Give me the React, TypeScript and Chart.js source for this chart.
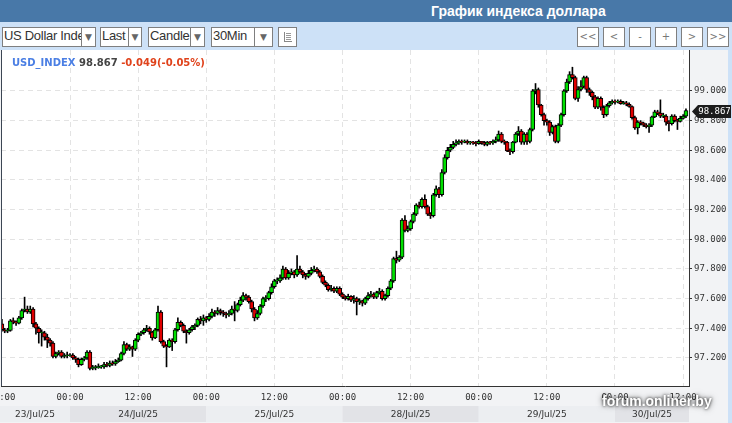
import React, { useEffect, useRef } from 'react';
import { Chart, registerables } from 'chart.js';

Chart.register(...registerables);

// ---- Data (30-minute candles, 23/Jul/25 12:00 -> 30/Jul/25 ~12:30) ----
const FIRST_OPEN = 97.43;

const close = [
  97.39, 97.38, 97.385, 97.45, 97.445, 97.435, 97.47, 97.52, 97.53, 97.51,
  97.53, 97.43, 97.40, 97.37, 97.37, 97.34, 97.32, 97.30, 97.21, 97.23,
  97.24, 97.21, 97.215, 97.215, 97.22, 97.20, 97.19, 97.155, 97.19, 97.20,
  97.24, 97.13, 97.135, 97.135, 97.14, 97.14, 97.155, 97.15, 97.165, 97.16,
  97.175, 97.185, 97.23, 97.29, 97.26, 97.275, 97.26, 97.32, 97.36, 97.37,
  97.39, 97.40, 97.375, 97.335, 97.39, 97.51, 97.31, 97.28, 97.275, 97.32,
  97.31, 97.39, 97.44, 97.42, 97.38, 97.37, 97.39, 97.41, 97.42, 97.46,
  97.45, 97.47, 97.46, 97.48, 97.51, 97.50, 97.52, 97.51, 97.50, 97.49,
  97.50, 97.53, 97.52, 97.56, 97.59, 97.62, 97.61, 97.58, 97.53, 97.47,
  97.50, 97.55, 97.60, 97.60, 97.64, 97.68, 97.72, 97.72, 97.74, 97.80,
  97.74, 97.77, 97.78, 97.76, 97.80, 97.78, 97.76, 97.75, 97.77, 97.79,
  97.80, 97.78, 97.75, 97.71, 97.69, 97.66, 97.67, 97.65, 97.67, 97.63,
  97.61, 97.60, 97.615, 97.59, 97.60, 97.58, 97.585, 97.57, 97.60, 97.62,
  97.63, 97.61, 97.64, 97.65, 97.60, 97.62, 97.67, 97.72, 97.87, 97.86,
  97.88, 98.13, 98.06, 98.07, 98.12, 98.17, 98.23, 98.22, 98.27, 98.22,
  98.17, 98.16, 98.30, 98.34, 98.30, 98.45, 98.55, 98.60, 98.62, 98.64,
  98.65, 98.66, 98.655, 98.66, 98.65, 98.655, 98.65, 98.645, 98.66, 98.65,
  98.64, 98.655, 98.65, 98.66, 98.67, 98.71, 98.66, 98.655, 98.595, 98.59,
  98.655, 98.71, 98.73, 98.655, 98.71, 98.66, 98.74, 99.00, 99.01, 98.905,
  98.84, 98.80, 98.79, 98.72, 98.76, 98.66, 98.77, 98.84, 99.00, 99.06,
  99.11, 99.09, 98.95, 99.01, 99.03, 99.09, 99.01, 98.99, 98.96, 98.89,
  98.95, 98.89, 98.84, 98.90, 98.92, 98.93, 98.925, 98.93, 98.915, 98.92,
  98.91, 98.895, 98.82, 98.75, 98.79, 98.785, 98.77, 98.76, 98.77, 98.825,
  98.86, 98.85, 98.83, 98.83, 98.79, 98.78, 98.83, 98.80, 98.795, 98.815,
  98.83, 98.867,
];

const high = [
  97.46, 97.40, 97.40, 97.46, 97.47, 97.45, 97.48, 97.53, 97.61, 97.55,
  97.55, 97.54, 97.44, 97.41, 97.39, 97.38, 97.36, 97.33, 97.31, 97.24,
  97.25, 97.25, 97.23, 97.24, 97.23, 97.23, 97.21, 97.20, 97.20, 97.21,
  97.25, 97.25, 97.15, 97.15, 97.16, 97.15, 97.17, 97.17, 97.18, 97.18,
  97.19, 97.20, 97.24, 97.31, 97.30, 97.29, 97.28, 97.33, 97.37, 97.38,
  97.40, 97.42, 97.41, 97.38, 97.40, 97.55, 97.52, 97.32, 97.29, 97.33,
  97.33, 97.40, 97.47, 97.45, 97.43, 97.39, 97.40, 97.42, 97.43, 97.47,
  97.48, 97.49, 97.48, 97.50, 97.53, 97.52, 97.54, 97.53, 97.52, 97.51,
  97.52, 97.55, 97.58, 97.57, 97.61, 97.64, 97.63, 97.62, 97.59, 97.54,
  97.52, 97.56, 97.61, 97.62, 97.65, 97.70, 97.73, 97.74, 97.76, 97.82,
  97.81, 97.79, 97.80, 97.79, 97.89, 97.82, 97.79, 97.77, 97.79, 97.81,
  97.82, 97.81, 97.79, 97.76, 97.72, 97.70, 97.69, 97.68, 97.68, 97.68,
  97.64, 97.62, 97.63, 97.62, 97.62, 97.61, 97.60, 97.59, 97.61, 97.64,
  97.65, 97.64, 97.65, 97.67, 97.66, 97.63, 97.68, 97.73, 97.88, 97.92,
  97.89, 98.14, 98.16, 98.09, 98.13, 98.18, 98.24, 98.25, 98.28, 98.30,
  98.23, 98.18, 98.31, 98.36, 98.35, 98.47, 98.57, 98.62, 98.64, 98.66,
  98.67, 98.67, 98.67, 98.67, 98.67, 98.66, 98.66, 98.66, 98.67, 98.66,
  98.66, 98.66, 98.66, 98.67, 98.69, 98.73, 98.72, 98.67, 98.66, 98.61,
  98.66, 98.72, 98.76, 98.74, 98.72, 98.72, 98.75, 99.01, 99.05, 99.02,
  98.91, 98.85, 98.81, 98.80, 98.77, 98.77, 98.78, 98.85, 99.01, 99.08,
  99.13, 99.16, 99.10, 99.03, 99.07, 99.10, 99.10, 99.02, 99.00, 98.97,
  98.96, 98.96, 98.90, 98.91, 98.93, 98.94, 98.94, 98.94, 98.94, 98.93,
  98.93, 98.92, 98.90, 98.83, 98.80, 98.80, 98.79, 98.78, 98.78, 98.83,
  98.87, 98.87, 98.94, 98.85, 98.84, 98.80, 98.84, 98.84, 98.81, 98.83,
  98.84, 98.88,
];

const low = [
  97.38, 97.37, 97.37, 97.38, 97.43, 97.42, 97.43, 97.46, 97.51, 97.50,
  97.50, 97.41, 97.36, 97.30, 97.28, 97.32, 97.27, 97.28, 97.20, 97.20,
  97.22, 97.20, 97.20, 97.20, 97.21, 97.19, 97.17, 97.14, 97.15, 97.18,
  97.19, 97.12, 97.12, 97.12, 97.13, 97.13, 97.13, 97.14, 97.14, 97.15,
  97.15, 97.17, 97.18, 97.22, 97.25, 97.25, 97.21, 97.25, 97.31, 97.35,
  97.36, 97.38, 97.36, 97.32, 97.33, 97.38, 97.30, 97.27, 97.14, 97.27,
  97.25, 97.30, 97.38, 97.41, 97.37, 97.30, 97.36, 97.38, 97.39, 97.41,
  97.43, 97.42, 97.44, 97.45, 97.47, 97.48, 97.49, 97.49, 97.48, 97.47,
  97.48, 97.49, 97.45, 97.51, 97.55, 97.58, 97.59, 97.57, 97.51, 97.45,
  97.46, 97.49, 97.54, 97.58, 97.59, 97.63, 97.67, 97.70, 97.71, 97.73,
  97.73, 97.73, 97.76, 97.74, 97.75, 97.77, 97.74, 97.73, 97.74, 97.76,
  97.78, 97.77, 97.74, 97.70, 97.68, 97.65, 97.65, 97.64, 97.64, 97.62,
  97.60, 97.59, 97.59, 97.58, 97.57, 97.49, 97.56, 97.55, 97.56, 97.59,
  97.61, 97.60, 97.60, 97.63, 97.59, 97.59, 97.61, 97.66, 97.71, 97.84,
  97.85, 97.87, 98.05, 98.05, 98.06, 98.11, 98.16, 98.21, 98.21, 98.21,
  98.16, 98.14, 98.15, 98.29, 98.28, 98.29, 98.44, 98.54, 98.59, 98.61,
  98.63, 98.64, 98.64, 98.65, 98.64, 98.64, 98.64, 98.63, 98.64, 98.64,
  98.63, 98.63, 98.64, 98.64, 98.65, 98.66, 98.65, 98.64, 98.59, 98.57,
  98.58, 98.65, 98.70, 98.64, 98.64, 98.64, 98.65, 98.73, 98.98, 98.89,
  98.83, 98.77, 98.77, 98.70, 98.71, 98.65, 98.65, 98.76, 98.83, 98.99,
  99.05, 99.08, 98.94, 98.93, 99.00, 99.02, 98.99, 98.97, 98.94, 98.88,
  98.88, 98.87, 98.82, 98.83, 98.89, 98.91, 98.91, 98.92, 98.91, 98.91,
  98.90, 98.89, 98.81, 98.74, 98.71, 98.77, 98.76, 98.75, 98.72, 98.76,
  98.82, 98.84, 98.82, 98.82, 98.77, 98.73, 98.77, 98.79, 98.74, 98.79,
  98.81, 98.82,
];

// Each candle opens where the previous one closed.
const open = close.map((_, i) => (i === 0 ? FIRST_OPEN : close[i - 1]));

const timeTickIndex = [0, 24, 48, 72, 96, 120, 144, 168, 192, 216, 240];
const timeTickLabels = ['12:00', '00:00', '12:00', '00:00', '12:00', '00:00', '12:00', '00:00', '12:00', '00:00', '12:00'];
const dayStartIndex = [24, 72, 120, 168, 216];
const dayLabels = ['23/Jul/25', '24/Jul/25', '25/Jul/25', '28/Jul/25', '29/Jul/25', '30/Jul/25'];
const priceTicks = [97.2, 97.4, 97.6, 97.8, 98.0, 98.2, 98.4, 98.6, 98.8, 99.0];

const SYMBOL = 'USD_INDEX';
const LAST_TEXT = '98.867';
const CHANGE_TEXT = '-0.049(-0.05%)';

const X_MIN = -0.31;
const X_MAX = 242.07;
const Y_MIN = 97.011;
const Y_MAX = 99.276;

const GREEN = '#00e000';
const RED = '#e00000';

const framePlugin = {
  id: 'frame',
  beforeDraw(chart: any) {
    const { ctx, chartArea: a, height } = chart;
    ctx.save();
    ctx.fillStyle = '#f2f3f5';
    ctx.fillRect(0, 0, 728, height);
    ctx.fillStyle = '#cde1f7';
    ctx.fillRect(728, 0, chart.width - 728, height);
    ctx.fillStyle = '#ffffff';
    ctx.fillRect(a.left, a.top, a.right - a.left, a.bottom - a.top);

    // date band
    const xs = chart.scales.x;
    const bounds = [0, ...dayStartIndex.map((i) => xs.getPixelForValue(i)), a.right];
    const y0 = a.bottom + 20;
    const h = 16;
    for (let k = 0; k < dayLabels.length; k++) {
      const x0 = bounds[k];
      const x1 = bounds[k + 1];
      ctx.fillStyle = k % 2 === 0 ? '#eceef1' : '#e2e3e7';
      ctx.fillRect(x0, y0, x1 - x0, h);
      ctx.fillStyle = '#333';
      ctx.font = '9px "DejaVu Sans"';
      ctx.textAlign = 'center';
      ctx.textBaseline = 'middle';
      ctx.fillText(dayLabels[k], (x0 + x1) / 2, y0 + h / 2 + 1);
    }
    ctx.restore();
  },
  afterDraw(chart: any) {
    const { ctx, chartArea: a } = chart;
    ctx.save();
    // left frame line
    ctx.strokeStyle = '#3c4654';
    ctx.lineWidth = 1;
    ctx.beginPath();
    ctx.moveTo(a.left + 0.5, a.top);
    ctx.lineTo(a.left + 0.5, a.bottom);
    ctx.stroke();

    // last price tag
    const ys = chart.scales.y;
    const last = close[close.length - 1];
    const y = Math.round(ys.getPixelForValue(last)) + 0.5;
    const tip = a.right + 3;
    ctx.fillStyle = '#1c1c1c';
    ctx.beginPath();
    ctx.moveTo(tip, y);
    ctx.lineTo(tip + 6, y - 6.5);
    ctx.lineTo(731, y - 6.5);
    ctx.lineTo(731, y + 6.5);
    ctx.lineTo(tip + 6, y + 6.5);
    ctx.closePath();
    ctx.fill();
    ctx.fillStyle = '#ffffff';
    ctx.font = '9px "DejaVu Sans Mono"';
    ctx.textAlign = 'center';
    ctx.textBaseline = 'middle';
    ctx.fillText(last.toFixed(3), (tip + 6 + 731) / 2, y + 0.5);
    ctx.restore();
  },
};

function Select(props: { left: number; right: number; divider: number; text: string }) {
  const { left, right, divider, text } = props;
  return (
    <div
      style={{
        position: 'absolute',
        left,
        top: 27,
        width: right - left,
        height: 20,
        boxSizing: 'border-box',
        border: '1px solid #7f7f7f',
        background: '#fff',
        overflow: 'hidden',
      }}
    >
      <div
        style={{
          position: 'absolute',
          left: 1,
          top: 0,
          width: divider - left - 2,
          height: 18,
          lineHeight: '15px',
          fontSize: 13,
          letterSpacing: '-0.3px',
          color: '#333',
          whiteSpace: 'nowrap',
          overflow: 'hidden',
          fontFamily: '"Liberation Sans", Arial, sans-serif',
        }}
      >
        {text}
      </div>
      <div style={{ position: 'absolute', left: divider - left - 1, top: 0, width: 1, height: 18, background: '#7f7f7f' }} />
      <div
        style={{
          position: 'absolute',
          left: divider - left,
          right: 0,
          top: 0,
          height: 18,
          lineHeight: '18px',
          textAlign: 'center',
          fontSize: 9,
          color: '#666',
          fontFamily: '"DejaVu Sans", sans-serif',
        }}
      >
        ▼
      </div>
    </div>
  );
}

function NavButton(props: { left: number; text: string }) {
  return (
    <div
      style={{
        position: 'absolute',
        left: props.left,
        top: 27,
        width: 22,
        height: 20,
        boxSizing: 'border-box',
        border: '1px solid #7f7f7f',
        background: '#fff',
        textAlign: 'center',
        lineHeight: '18px',
        fontSize: 10,
        color: '#777',
        fontFamily: '"DejaVu Sans", sans-serif',
      }}
    >
      {props.text}
    </div>
  );
}

export default function App() {
  const canvasRef = useRef<HTMLCanvasElement | null>(null);

  useEffect(() => {
    const canvas = canvasRef.current;
    if (!canvas) return;

    const bodies = close.map((c, i) => ({ x: i, y: [open[i], c] }));
    const wicks = close.map((_, i) => ({ x: i, y: [low[i], high[i]] }));
    const bodyColors = close.map((c, i) => (c >= open[i] ? GREEN : RED));

    const zeroPad = (scale: any) => {
      scale.paddingLeft = 0;
      scale.paddingRight = 0;
      scale.paddingTop = 0;
      scale.paddingBottom = 0;
    };

    const chart = new Chart(canvas, {
      type: 'bar',
      data: {
        datasets: [
          {
            label: 'body',
            data: bodies as any,
            backgroundColor: bodyColors,
            borderColor: '#000000',
            borderWidth: 1,
            borderSkipped: false,
            barThickness: 4,
            minBarLength: 1,
            grouped: false,
          } as any,
          {
            label: 'wick',
            data: wicks as any,
            backgroundColor: '#000000',
            borderWidth: 0,
            barThickness: 1,
            grouped: false,
          } as any,
        ],
      },
      options: {
        responsive: false,
        animation: false,
        events: [],
        layout: { padding: { left: 1, right: 4, top: 0, bottom: 0 } },
        plugins: {
          legend: { display: false },
          tooltip: { enabled: false },
        },
        scales: {
          x: {
            type: 'linear',
            min: X_MIN,
            max: X_MAX,
            offset: false,
            afterBuildTicks: (scale: any) => {
              scale.ticks = timeTickIndex.map((v) => ({ value: v }));
            },
            afterFit: (scale: any) => {
              scale.height = 37;
              zeroPad(scale);
            },
            grid: {
              offset: false,
              color: '#e3e3e3',
              drawTicks: false,
            },
            border: { display: true, color: '#333333', width: 1, dash: [5, 4] },
            ticks: {
              autoSkip: false,
              maxRotation: 0,
              padding: 6,
              color: '#333333',
              font: { family: '"DejaVu Sans Mono", monospace', size: 9 },
              callback: (_v: any, index: number) => timeTickLabels[index] ?? '',
            },
          },
          y: {
            type: 'linear',
            position: 'right',
            min: Y_MIN,
            max: Y_MAX,
            afterBuildTicks: (scale: any) => {
              scale.ticks = priceTicks.map((v) => ({ value: v }));
            },
            afterFit: (scale: any) => {
              scale.width = 39;
              zeroPad(scale);
            },
            grid: {
              color: '#e3e3e3',
              drawTicks: true,
              tickLength: 3,
              tickColor: '#333333',
            },
            border: { display: true, color: '#333333', width: 1, dash: [5, 4] },
            ticks: {
              padding: 2,
              color: '#333333',
              font: { family: '"DejaVu Sans Mono", monospace', size: 9 },
              callback: (v: any) => Number(v).toFixed(3),
            },
          },
        },
      } as any,
      plugins: [framePlugin],
    });

    return () => {
      chart.destroy();
    };
  }, []);

  const navLabels = ['<<', '<', '-', '+', '>', '>>'];

  return (
    <div
      style={{
        position: 'fixed',
        left: 0,
        top: 0,
        width: 732,
        height: 423,
        overflow: 'hidden',
        background: '#cde1f7',
        fontFamily: '"DejaVu Sans", sans-serif',
      }}
    >
      {/* header */}
      <div style={{ position: 'absolute', left: 0, top: 0, width: 732, height: 22, background: '#4878a8' }}>
        <div
          style={{
            position: 'absolute',
            left: 431,
            top: 0,
            lineHeight: '22px',
            fontSize: 14,
            fontWeight: 'bold',
            color: '#ffffff',
            fontFamily: '"Liberation Sans", Arial, sans-serif',
            whiteSpace: 'nowrap',
          }}
        >
          График индекса доллара
        </div>
      </div>

      {/* toolbar */}
      <Select left={2} right={96} divider={81} text="US Dollar Index" />
      <Select left={100} right={142} divider={128} text="Last" />
      <Select left={148} right={205} divider={190} text="Candle" />
      <Select left={211} right={273} divider={254} text="30Min" />
      <div
        style={{
          position: 'absolute',
          left: 278,
          top: 27,
          width: 19,
          height: 20,
          boxSizing: 'border-box',
          border: '1px solid #7f7f7f',
          background: '#fff',
        }}
      >
        <div style={{ position: 'absolute', left: 5, top: 4, width: 1, height: 10, background: '#888' }} />
        <div style={{ position: 'absolute', left: 7, top: 5, width: 5, height: 1, background: '#999' }} />
        <div style={{ position: 'absolute', left: 7, top: 7, width: 5, height: 1, background: '#999' }} />
        <div style={{ position: 'absolute', left: 7, top: 9, width: 5, height: 1, background: '#999' }} />
        <div style={{ position: 'absolute', left: 7, top: 11, width: 5, height: 1, background: '#999' }} />
        <div style={{ position: 'absolute', left: 5, top: 13, width: 8, height: 1, background: '#888' }} />
      </div>
      {navLabels.map((t, k) => (
        <NavButton key={t + k} left={577 + k * 26} text={t} />
      ))}

      {/* chart */}
      <canvas
        ref={canvasRef}
        width={732}
        height={373}
        style={{ position: 'absolute', left: 0, top: 50, width: 732, height: 373, display: 'block' }}
      />

      {/* legend */}
      <div
        style={{
          position: 'absolute',
          left: 12,
          top: 57,
          lineHeight: '12px',
          fontSize: 10,
          fontWeight: 'bold',
          fontFamily: '"DejaVu Sans", sans-serif',
          whiteSpace: 'nowrap',
        }}
      >
        <span style={{ color: '#4b7fe4' }}>{SYMBOL}</span>{' '}
        <span style={{ color: '#444444' }}>{LAST_TEXT}</span>{' '}
        <span style={{ color: '#e0421b' }}>{CHANGE_TEXT}</span>
      </div>

      {/* watermark */}
      <div
        style={{
          position: 'absolute',
          left: 602,
          top: 393,
          lineHeight: '16px',
          fontSize: 14,
          fontWeight: 'bold',
          color: '#ffffff',
          fontFamily: '"Liberation Sans", Arial, sans-serif',
          textShadow: '0 0 3px rgba(0,0,0,0.85), 0 0 6px rgba(0,0,0,0.6)',
          whiteSpace: 'nowrap',
        }}
      >
        forum.onliner.by
      </div>
    </div>
  );
}
